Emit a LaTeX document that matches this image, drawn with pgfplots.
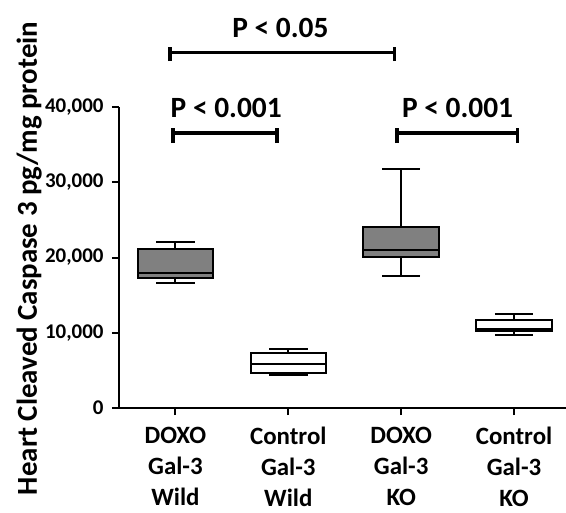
\documentclass[border=0pt]{standalone}
\usepackage{fontspec}
\setmainfont{Carlito}
\usepackage{pgfplots}
\pgfplotsset{compat=1.18}
\usepgfplotslibrary{statistics}

\begin{document}
\begin{tikzpicture}
% values in thousands (pg/mg), tick labels written out in full
\begin{axis}[
    width=447bp, height=301bp, scale only axis,
    xmin=0.5, xmax=4.46,
    ymin=0, ymax=40,
    axis x line*=bottom, axis y line*=left,
    axis line style={line width=2.2bp, -},
    tick align=outside,
    major tick length=7bp,
    tick style={line width=2bp, black},
    xtick={1,2,3,4},
    xticklabels={{DOXO\\Gal-3\\Wild},{Control\\Gal-3\\Wild},{DOXO\\Gal-3\\KO},{Control\\Gal-3\\KO}},
    xticklabel style={align=center, font=\fontsize{25}{31}\selectfont\bfseries, yshift=-9bp},
    ytick={0,10,20,30,40},
    yticklabels={0,{10,000},{20,000},{30,000},{40,000}},
    yticklabel style={font=\fontsize{21}{24}\selectfont\bfseries, xshift=-5bp},
    ylabel={Heart Cleaved Caspase 3 pg/mg protein},
    ylabel style={at={(axis description cs:-0.201,0.497)}, anchor=center,
        font=\fontsize{29}{34}\selectfont\bfseries},
    clip=false,
    boxplot/draw direction=y,
    boxplot/box extend=0.67,
    boxplot/whisker extend=0.34,
]
\coordinate (O) at (rel axis cs:0,0);

% DOXO Gal-3 Wild
\addplot[draw=black, fill=black!50, line width=2bp,
    boxplot prepared={draw position=1, lower whisker=16.6, lower quartile=17.3,
    median=17.9, upper quartile=21.1, upper whisker=22.0}] coordinates {};
% Control Gal-3 Wild
\addplot[draw=black, fill=white, line width=2bp,
    boxplot prepared={draw position=2, lower whisker=4.4, lower quartile=4.69,
    median=5.84, upper quartile=7.28, upper whisker=7.8}] coordinates {};
% DOXO Gal-3 KO
\addplot[draw=black, fill=black!50, line width=2bp,
    boxplot prepared={draw position=3, lower whisker=17.57, lower quartile=20.1,
    median=21.0, upper quartile=24.0, upper whisker=31.8}] coordinates {};
% Control Gal-3 KO
\addplot[draw=black, fill=white, line width=2bp,
    boxplot prepared={draw position=4, lower whisker=9.69, lower quartile=10.27,
    median=10.55, upper quartile=11.69, upper whisker=12.44}] coordinates {};

% significance brackets
\draw[line width=3.5bp] (axis cs:0.95,46.08) -- (axis cs:0.95,47.94);
\draw[line width=3.5bp] (axis cs:2.94,46.08) -- (axis cs:2.94,47.94);
\draw[line width=3.5bp] (axis cs:0.95,47.24) -- (axis cs:2.94,47.24);
\node[font=\fontsize{29.5}{34}\selectfont\bfseries] at (axis cs:1.93,50.47) {P < 0.05};

\draw[line width=3.5bp] (axis cs:0.978,35.2) -- (axis cs:0.978,37.15);
\draw[line width=3.5bp] (axis cs:1.90,35.2) -- (axis cs:1.90,37.15);
\draw[line width=3.5bp] (axis cs:0.978,36.55) -- (axis cs:1.90,36.55);
\node[font=\fontsize{29.5}{34}\selectfont\bfseries] at (axis cs:1.45,39.84) {P < 0.001};

\draw[line width=3.5bp] (axis cs:2.965,35.2) -- (axis cs:2.965,37.15);
\draw[line width=3.5bp] (axis cs:4.03,35.2) -- (axis cs:4.03,37.15);
\draw[line width=3.5bp] (axis cs:2.965,36.55) -- (axis cs:4.03,36.55);
\node[font=\fontsize{29.5}{34}\selectfont\bfseries] at (axis cs:3.50,39.84) {P < 0.001};
\end{axis}
\pgfresetboundingbox
\path ([shift={(-119bp,-105bp)}]O) rectangle ([shift={(447bp,408bp)}]O);
\end{tikzpicture}
\end{document}
